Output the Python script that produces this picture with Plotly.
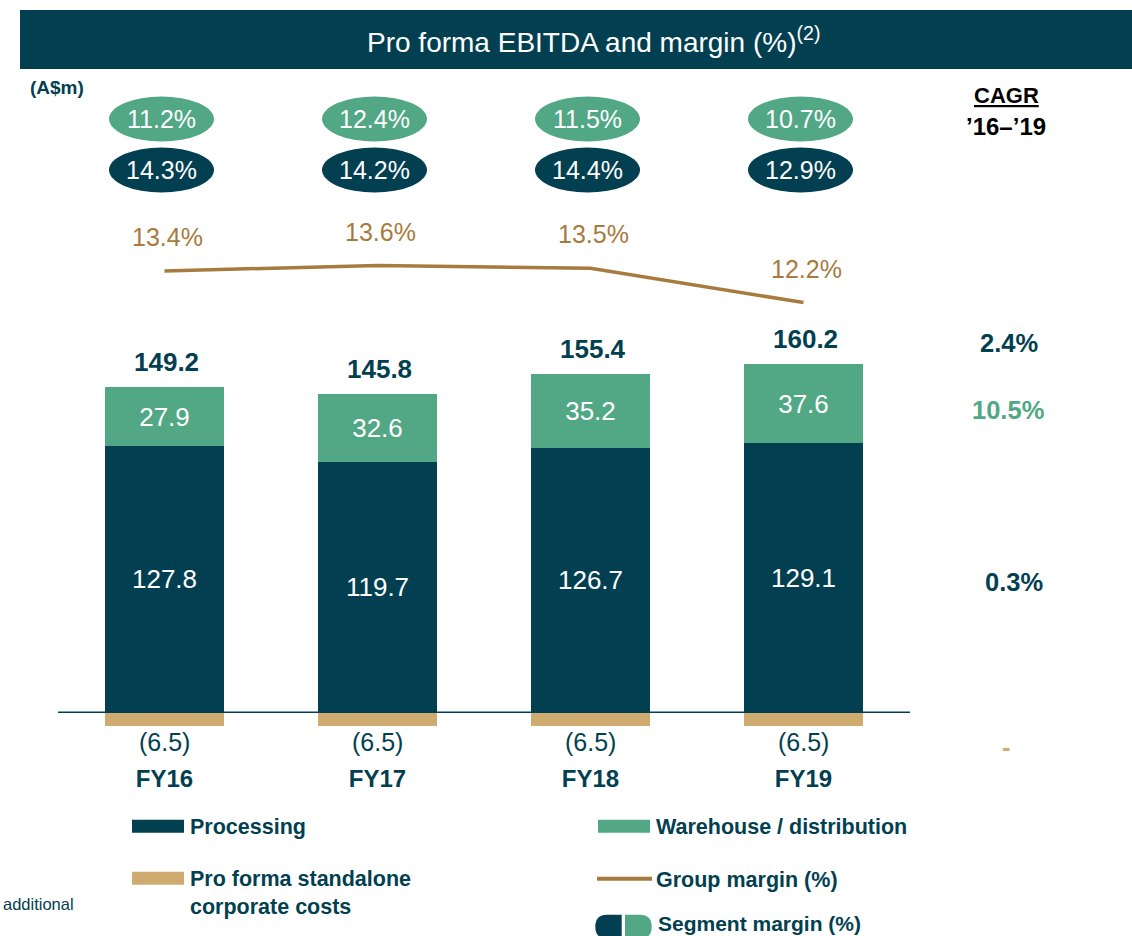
import plotly.graph_objects as go

# ---------------- data ----------------
categories = ["FY16", "FY17", "FY18", "FY19"]
processing = [127.8, 119.7, 126.7, 129.1]
warehouse = [27.9, 32.6, 35.2, 37.6]
corporate = [-6.5, -6.5, -6.5, -6.5]
totals = [149.2, 145.8, 155.4, 160.2]
group_margin = [13.4, 13.6, 13.5, 12.2]
seg_margin_warehouse = ["11.2%", "12.4%", "11.5%", "10.7%"]
seg_margin_processing = ["14.3%", "14.2%", "14.4%", "12.9%"]
cagr_labels = ["2.4%", "10.5%", "0.3%", "-"]

# ---------------- style ----------------
DARK = "#023f51"
GREEN = "#52a784"
TAN = "#d0ab70"
GOLD = "#a77b3d"
FONT = "Liberation Sans, Arial, sans-serif"

W, H = 1132, 936
L, R = 58, 910          # plot area pixel x
T, B = 90, 733.2        # plot area pixel y
PX_PER_UNIT = 2.088
Y0_PIX = 712.5
y_min = -(B - Y0_PIX) / PX_PER_UNIT
y_max = (Y0_PIX - T) / PX_PER_UNIT
x_range = [-0.5, 3.5]
cat_px = (R - L) / (x_range[1] - x_range[0])


def px(x):
    return (x - L) / (R - L)


def py(y):
    return (B - y) / (B - T)


fig = go.Figure()

fig.add_trace(go.Bar(
    x=list(range(4)), y=processing, name="Processing", marker_color=DARK,
    marker_line_width=0, width=0.557,
    text=[f"{v:.1f}" for v in processing], textposition="inside",
    insidetextanchor="middle", textangle=0,
    textfont=dict(color="white", size=26, family=FONT)))
fig.add_trace(go.Bar(
    x=list(range(4)), y=warehouse, name="Warehouse / distribution",
    marker_color=GREEN, marker_line_width=0, width=0.557,
    text=[f"{v:.1f}" for v in warehouse], textposition="inside",
    insidetextanchor="middle", textangle=0,
    textfont=dict(color="white", size=26, family=FONT)))
fig.add_trace(go.Bar(
    x=list(range(4)), y=corporate, name="Pro forma standalone corporate costs",
    marker_color=TAN, marker_line_width=0, width=0.557))
fig.add_trace(go.Scatter(
    x=list(range(4)), y=group_margin, yaxis="y2", mode="lines",
    line=dict(color=GOLD, width=3.5), name="Group margin (%)"))

annotations = []
shapes = []


def ann(**kw):
    d = dict(showarrow=False, xanchor="center", yanchor="middle")
    d.update(kw)
    annotations.append(d)


# totals above bars
for i, (p, w, t) in enumerate(zip(processing, warehouse, totals)):
    ann(x=i, y=p + w, xref="x", yref="y", text=f"<b>{t:.1f}</b>", yshift=25,
        xshift=2, font=dict(color=DARK, size=26, family=FONT))
# corporate cost labels
for i, c in enumerate(corporate):
    ann(x=i, y=c, xref="x", yref="y", text=f"({abs(c):.1f})", yshift=-16,
        font=dict(color=DARK, size=25, family=FONT))
# group margin labels
for i, m in enumerate(group_margin):
    ann(x=i, y=m, xref="x", yref="y2", text=f"{m:.1f}%", yshift=34, xshift=3,
        font=dict(color=GOLD, size=25, family=FONT))

# segment margin ellipses
half_w = 52.5 / cat_px
off = -3 / cat_px
for i, (gw, dp) in enumerate(zip(seg_margin_warehouse, seg_margin_processing)):
    for lab, col, yc in ((gw, GREEN, 119), (dp, DARK, 170)):
        shapes.append(dict(type="circle", xref="x", yref="paper",
                           x0=i + off - half_w, x1=i + off + half_w,
                           y0=py(yc + 22.5), y1=py(yc - 22.5),
                           fillcolor=col, line=dict(width=0), layer="above"))
        ann(x=i + off, y=py(yc), xref="x", yref="paper", text=lab,
            font=dict(color="white", size=25, family=FONT))

# baseline
shapes.append(dict(type="line", xref="paper", yref="y", x0=0, x1=1, y0=0, y1=0,
                   line=dict(color=DARK, width=1.5), layer="above"))

# title bar
shapes.append(dict(type="rect", xref="paper", yref="paper",
                   x0=px(20), x1=px(1132), y0=py(69), y1=py(10),
                   fillcolor=DARK, line=dict(width=0)))
ann(x=px(593), y=py(40), xref="paper", yref="paper",
    text="Pro forma EBITDA and margin (%)<sup>(2)</sup>",
    font=dict(color="white", size=28, family=FONT))
ann(x=px(28), y=py(87), xref="paper", yref="paper", xanchor="left",
    text="<b>(A$m)</b>", font=dict(color=DARK, size=19, family=FONT))

# CAGR header
ann(x=px(1006), y=py(96), xref="paper", yref="paper", text="<b><u>CAGR</u></b>",
    font=dict(color="black", size=22, family=FONT))
ann(x=px(1006), y=py(127), xref="paper", yref="paper",
    text="<b>\u201916\u2013\u201919</b>", font=dict(color="black", size=24, family=FONT))
cagr_pos = [(1009, 343, DARK), (1008, 410, GREEN), (1014, 582, DARK), (1006, 747, TAN)]
for lab, (xx, yy, col) in zip(cagr_labels, cagr_pos):
    ann(x=px(xx), y=py(yy), xref="paper", yref="paper", text=f"<b>{lab}</b>",
        font=dict(color=col, size=25.5, family=FONT))


# legend (manual)
def legend_text(x, y, text, size=21.5):
    ann(x=px(x), y=py(y), xref="paper", yref="paper", xanchor="left",
        text=f"<b>{text}</b>", align="left",
        font=dict(color=DARK, size=size, family=FONT))


shapes.append(dict(type="rect", xref="paper", yref="paper", x0=px(132), x1=px(184),
                   y0=py(833), y1=py(820), fillcolor=DARK, line=dict(width=0)))
legend_text(188, 827, "Processing")
shapes.append(dict(type="rect", xref="paper", yref="paper", x0=px(132), x1=px(184),
                   y0=py(885), y1=py(872), fillcolor=TAN, line=dict(width=0)))
legend_text(188, 893, "Pro forma standalone<br>corporate costs")
shapes.append(dict(type="rect", xref="paper", yref="paper", x0=px(598), x1=px(650),
                   y0=py(833), y1=py(820), fillcolor=GREEN, line=dict(width=0)))
legend_text(654, 827, "Warehouse / distribution")
shapes.append(dict(type="line", xref="paper", yref="paper", x0=px(597), x1=px(652),
                   y0=py(879), y1=py(879), line=dict(color=GOLD, width=4)))
legend_text(654, 880, "Group margin (%)")

# segment margin icon (two rounded halves)
ya, yb = 915, 939
ym = (ya + yb) / 2
left_path = (f"M {px(621.7)} {py(ya)} L {px(607)} {py(ya)} "
             f"Q {px(595.3)} {py(ya)} {px(595.3)} {py(ym)} "
             f"Q {px(595.3)} {py(yb)} {px(607)} {py(yb)} L {px(621.7)} {py(yb)} Z")
right_path = (f"M {px(625)} {py(ya)} L {px(640)} {py(ya)} "
              f"Q {px(651.7)} {py(ya)} {px(651.7)} {py(ym)} "
              f"Q {px(651.7)} {py(yb)} {px(640)} {py(yb)} L {px(625)} {py(yb)} Z")
shapes.append(dict(type="path", xref="paper", yref="paper", path=left_path,
                   fillcolor=DARK, line=dict(width=0)))
shapes.append(dict(type="path", xref="paper", yref="paper", path=right_path,
                   fillcolor=GREEN, line=dict(width=0)))
legend_text(656, 924, "Segment margin (%)", size=21)

ann(x=px(1), y=py(904), xref="paper", yref="paper", xanchor="left",
    text="additional", font=dict(color=DARK, size=16.5, family=FONT))

fig.update_layout(
    width=W, height=H,
    margin=dict(l=L, r=W - R, t=T, b=H - B, pad=0),
    paper_bgcolor="white", plot_bgcolor="white",
    barmode="relative", bargap=0.0,
    showlegend=False,
    xaxis=dict(range=x_range, tickmode="array", tickvals=list(range(4)),
               ticktext=[f"<b>{c}</b>" for c in categories], showgrid=False,
               zeroline=False, showline=False, ticks="",
               tickfont=dict(color=DARK, size=24, family=FONT),
               ticklabelstandoff=29, fixedrange=True),
    yaxis=dict(range=[y_min, y_max], visible=False, fixedrange=True),
    yaxis2=dict(range=[(624.7 - B) / 26.4, (624.7 - T) / 26.4], overlaying="y",
                visible=False, fixedrange=True),
    shapes=shapes, annotations=annotations,
    font=dict(family=FONT),
)

fig.write_html("out.html", config={"displayModeBar": False},
               post_script="document.body.style.margin='0';")
